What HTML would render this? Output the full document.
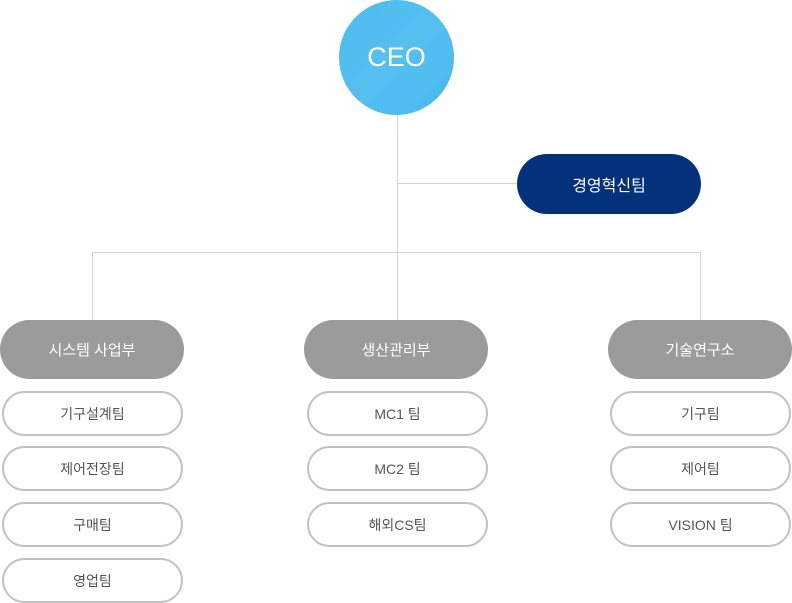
<!DOCTYPE html><html><head><style>
body{margin:0;width:792px;height:603px;background:#fff;position:relative;font-family:"Liberation Sans","Noto Sans CJK KR",sans-serif;overflow:hidden}
.a{position:absolute;display:flex;align-items:center;justify-content:center;box-sizing:border-box}
.l{position:absolute;background:#d4d4d4}
.d{background:#9b9b9b;color:#fff;border-radius:30px;height:59px;width:184px;top:320px;font-size:15px}
.t{border:2px solid #c2c2c2;border-radius:23px;height:45px;width:181px;color:#555;font-size:14px;background:#fff}
</style></head><body>
<div class="l" style="left:397px;top:110px;width:1px;height:210px"></div>
<div class="l" style="left:397px;top:183px;width:122px;height:1px"></div>
<div class="l" style="left:92px;top:252px;width:609px;height:1px"></div>
<div class="l" style="left:92px;top:252px;width:1px;height:70px"></div>
<div class="l" style="left:700px;top:252px;width:1px;height:70px"></div>
<div class="a" style="left:339px;top:0;width:115px;height:115px;border-radius:50%;background:linear-gradient(135deg,#4cbbee,#55c0f0 50%,#48b8ec);color:#fff;font-size:27px">CEO</div>
<div class="a" style="left:517px;top:154px;width:184px;height:60px;border-radius:30px;background:#03317a;color:#fff;font-size:16px">경영혁신팀</div>
<div class="a d" style="left:0">시스템 사업부</div>
<div class="a d" style="left:304px">생산관리부</div>
<div class="a d" style="left:608px">기술연구소</div>
<div class="a t" style="left:2px;top:391px">기구설계팀</div>
<div class="a t" style="left:2px;top:446px">제어전장팀</div>
<div class="a t" style="left:2px;top:502px">구매팀</div>
<div class="a t" style="left:2px;top:558px">영업팀</div>
<div class="a t" style="left:307px;top:391px">MC1 팀</div>
<div class="a t" style="left:307px;top:446px">MC2 팀</div>
<div class="a t" style="left:307px;top:502px">해외CS팀</div>
<div class="a t" style="left:610px;top:391px">기구팀</div>
<div class="a t" style="left:610px;top:446px">제어팀</div>
<div class="a t" style="left:610px;top:502px">VISION 팀</div>
</body></html>
